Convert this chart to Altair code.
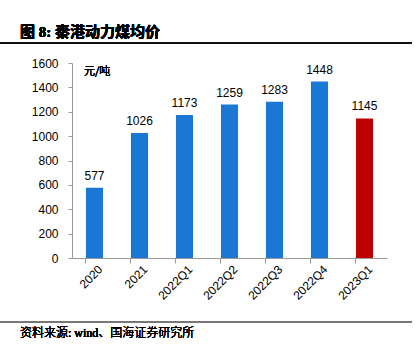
import altair as alt
import pandas as pd

categories = ["2020", "2021", "2022Q1", "2022Q2", "2022Q3", "2022Q4", "2023Q1"]
values = [577, 1026, 1173, 1259, 1283, 1448, 1145]
colors = ["#1a78d4"] * 6 + ["#c00000"]
yticks = [0, 200, 400, 600, 800, 1000, 1200, 1400, 1600]

df = pd.DataFrame({"cat": categories, "val": values, "color": colors})

W, H = 315, 195
L, T = 72, 63

x = alt.X("cat:N", sort=categories, title=None,
          scale=alt.Scale(paddingInner=0.62, paddingOuter=0.31),
          axis=alt.Axis(labelAngle=-45, labelAlign="right", labelBaseline="middle",
                        labelFont="Liberation Sans", labelFontSize=12, labelColor="#000",
                        domainColor="#999", tickColor="#999", tickSize=5,
                        bandPosition=0, labelPadding=4, labelOffset=6))
y = alt.Y("val:Q", title=None,
          scale=alt.Scale(domain=[0, 1600], nice=False),
          axis=alt.Axis(values=yticks, grid=False, format="d",
                        labelOverlap=False, labelFlush=False,
                        labelFont="Liberation Sans", labelFontSize=12, labelColor="#000",
                        domainColor="#999", tickColor="#999", tickSize=4, labelPadding=10))

base = alt.Chart(df)
bars = base.mark_bar().encode(x=x, y=y, color=alt.Color("color:N", scale=None))
labels = base.mark_text(dy=-12, font="Liberation Sans", fontSize=12, color="#000").encode(
    x=x, y=y, text="val:Q")

unit = base.mark_text(font="Noto Sans CJK SC", fontSize=11, fontWeight=300, color="#000",
                      align="left").encode(
    x=alt.value(12), y=alt.value(9), text=alt.value("元/吨"))
title = base.mark_text(font="Liberation Serif, Noto Sans CJK SC", fontSize=15, fontWeight="bold",
                       color="#000", align="left", baseline="middle").encode(
    x=alt.value(20 - L), y=alt.value(32 - T), text=alt.value("图 8:  秦港动力煤均价"))
topline = base.mark_rule(color="#111", strokeWidth=1.5).encode(
    x=alt.value(-L), x2=alt.value(412 - L), y=alt.value(43 - T))
botline = base.mark_rule(color="#777", strokeWidth=1).encode(
    x=alt.value(-L), x2=alt.value(412 - L), y=alt.value(322 - T))
source = base.mark_text(font="Liberation Serif, Noto Sans CJK SC", fontSize=12,
                        fontWeight=300, color="#000",
                        align="left", baseline="middle").encode(
    x=alt.value(20 - L), y=alt.value(333 - T), text=alt.value("资料来源:  wind、国海证券研究所"))

chart = alt.layer(bars, labels, unit, title, topline, botline, source).properties(
    width=W, height=H,
    background="white",
    autosize=alt.AutoSizeParams(type="none"),
    padding={"left": L, "top": T, "right": 419 - L - W, "bottom": 351 - T - H},
).configure_view(stroke=None)

chart.save("out.html", embed_options={"renderer": "svg", "actions": False})
